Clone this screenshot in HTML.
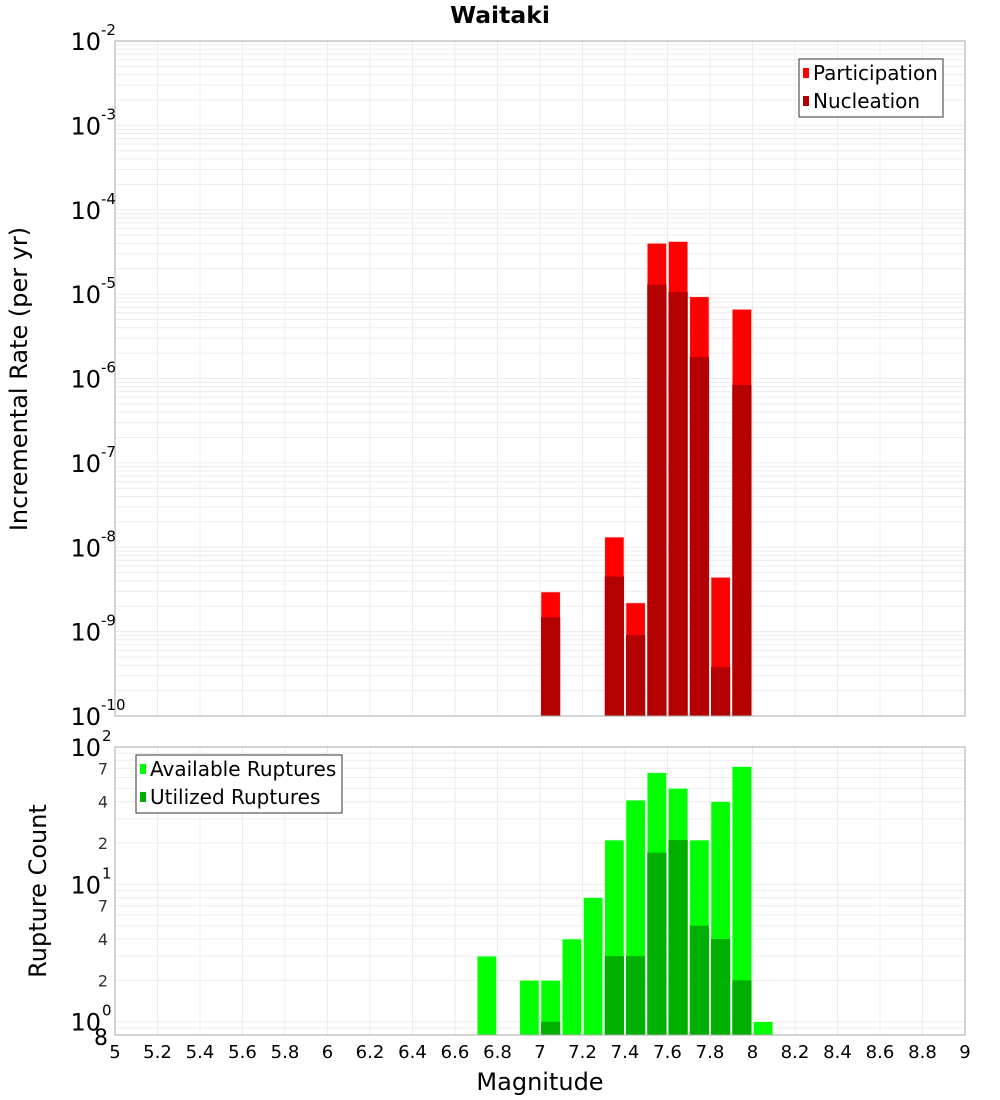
<!DOCTYPE html>
<html><head><meta charset="utf-8">
<style>
body{margin:0;background:#fff;}
svg{display:block;font-family:"DejaVu Sans","Liberation Sans",sans-serif;}
</style></head>
<body>
<svg id="chart" width="1000" height="1100" xmlns="http://www.w3.org/2000/svg">
<text x="500" y="23" text-anchor="middle" font-size="23.5" font-weight="bold">Waitaki</text>
<g id="topPlot"></g>
<g id="botPlot"></g>
<text transform="translate(27,379) rotate(-90)" text-anchor="middle" font-size="24">Incremental Rate (per yr)</text>
<text transform="translate(46,891) rotate(-90)" text-anchor="middle" font-size="24">Rupture Count</text>
<text x="540" y="1090" text-anchor="middle" font-size="24">Magnitude</text>
</svg>
<script>
const bins=[7.0,7.3,7.4,7.5,7.6,7.7,7.8,7.9];
const participation=[2.95e-9,1.32e-8,2.19e-9,4.0e-5,4.2e-5,9.3e-6,4.4e-9,6.6e-6];
const nucleation=[1.48e-9,4.5e-9,9.1e-10,1.3e-5,1.06e-5,1.8e-6,3.8e-10,8.4e-7];
const countBins=[6.7,6.9,7.0,7.1,7.2,7.3,7.4,7.5,7.6,7.7,7.8,7.9,8.0];
const available=[3,2,2,4,8,21,41,65,50,21,40,72,1];
const utilized=[0,0,1,0,0,3,3,17,21,5,4,2,0];
const xTicks=[5,5.2,5.4,5.6,5.8,6,6.2,6.4,6.6,6.8,7,7.2,7.4,7.6,7.8,8,8.2,8.4,8.6,8.8,9];
const topExps=[-2,-3,-4,-5,-6,-7,-8,-9,-10];
const botMinor=[{v:70,t:"7"},{v:40,t:"4"},{v:20,t:"2"},{v:7,t:"7"},{v:4,t:"4"},{v:2,t:"2"},{v:0.8,t:"8"}];

const NS="http://www.w3.org/2000/svg";
const L=115,R=965;
const x=m=>L+(m-5)/4*(R-L);
const T1=41,B1=716;
const yTop=v=>T1+(-2-Math.log10(v))/8*(B1-T1);
const T2=747,B2=1035,minC=0.8;
const yBot=v=>B2-(Math.log10(v)-Math.log10(minC))/(2-Math.log10(minC))*(B2-T2);
function el(p,tag,a){const e=document.createElementNS(NS,tag);for(const k in a)e.setAttribute(k,a[k]);p.appendChild(e);return e;}
const topG=document.getElementById('topPlot'),botG=document.getElementById('botPlot');

function frame(g,T,B,yf,decs){
  el(g,'rect',{x:L,y:T,width:R-L,height:B-T,fill:'#fff'});
  decs.forEach(d=>{for(let k=1;k<10;k++){const v=k*Math.pow(10,d);const yy=yf(v);if(yy<T-0.5||yy>B+0.5)continue;
    const ln=el(g,'line',{x1:L,x2:R,y1:yy,y2:yy,stroke:'#ececec','stroke-width':1});
    }});
  xTicks.forEach(t=>{const ln=el(g,'line',{x1:x(t),x2:x(t),y1:T,y2:B,stroke:'#ececec','stroke-width':1});
    });
}
frame(topG,T1,B1,yTop,[-10,-9,-8,-7,-6,-5,-4,-3]);
frame(botG,T2,B2,yBot,[-1,0,1]);

const bw=(x(5.1)-x(5))-2;
bins.forEach((m,i)=>{
  const x0=x(m)+1;
  let r=el(topG,'rect',{x:x0,y:yTop(participation[i]),width:bw,height:B1-yTop(participation[i]),fill:'#ff0000',stroke:'#ffdede','stroke-width':0.6});
  
  r=el(topG,'rect',{x:x0,y:yTop(nucleation[i]),width:bw,height:B1-yTop(nucleation[i]),fill:'#b40000'});
  
});
countBins.forEach((m,i)=>{
  const x0=x(m)+1;
  let r=el(botG,'rect',{x:x0,y:yBot(available[i]),width:bw,height:B2-yBot(available[i]),fill:'#00ff00',stroke:'#d8ffd8','stroke-width':0.6});
  
  if(utilized[i]>0){r=el(botG,'rect',{x:x0,y:yBot(utilized[i]),width:bw,height:B2-yBot(utilized[i]),fill:'#00b000'});
  }
});
el(topG,'rect',{x:L,y:T1,width:R-L,height:B1-T1,fill:'none',stroke:'#aaa','stroke-width':1});
el(botG,'rect',{x:L,y:T2,width:R-L,height:B2-T2,fill:'none',stroke:'#aaa','stroke-width':1});

topExps.forEach(e=>{const yy=yTop(Math.pow(10,e));
  const t=el(topG,'text',{x:101,y:yy+9,'text-anchor':'end','font-size':24});t.textContent='10';
  
  const s=el(topG,'text',{x:101,y:yy-6,'font-size':15});s.textContent=String(e);
  });
[2,1,0].forEach(e=>{const yy=yBot(Math.pow(10,e));
  const t=el(botG,'text',{x:101,y:yy+9,'text-anchor':'end','font-size':24});t.textContent='10';
  
  const s=el(botG,'text',{x:102,y:yy-6,'font-size':15});s.textContent=String(e);
  });
botMinor.forEach(o=>{const yy=yBot(o.v);
  const big=o.v<1;
  const t=el(botG,'text',{x:108,y:yy+(big?10:6),'text-anchor':'end','font-size':big?22:16,fill:big?'#000':'#333'});t.textContent=o.t;
  });
xTicks.forEach(v=>{const t=el(botG,'text',{x:x(v),y:1058,'text-anchor':'middle','font-size':18});
  t.textContent=String(Math.round(v*10)/10);
  });

function legend(g,bx,by,w,h,items){
  const lg=el(g,'g',{});
  el(lg,'rect',{x:bx,y:by,width:w,height:h,fill:'#fff',stroke:'#333','stroke-width':1});
  items.forEach((it,i)=>{const cy=by+14+i*28;
    const sw=el(lg,'rect',{x:bx+4,y:cy-5,width:6,height:10,fill:it.c});
    
    const t=el(lg,'text',{x:bx+14,y:cy+7,'font-size':20});t.textContent=it.t;
    });
}
legend(topG,799,59,144,58,[{c:'#ff0000',t:'Participation'},{c:'#b40000',t:'Nucleation'}]);
legend(botG,136,755,206,58,[{c:'#00ff00',t:'Available Ruptures'},{c:'#00b000',t:'Utilized Ruptures'}]);
</script>
</body></html>
